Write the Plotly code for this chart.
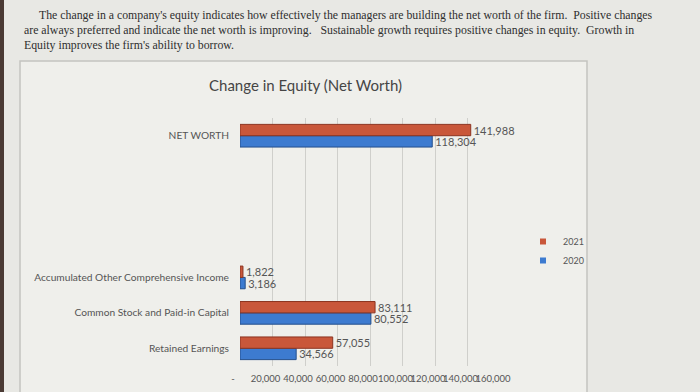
import plotly.graph_objects as go

categories = ["Retained Earnings", "Common Stock and Paid-in Capital",
              "Accumulated Other Comprehensive Income", " ", "  ", "   ", "NET WORTH"]
values_2021 = [57055, 83111, 1822, None, None, None, 141988]
values_2020 = [34566, 80552, 3186, None, None, None, 118304]
x_tick_vals = [0, 20000, 40000, 60000, 80000, 100000, 120000, 140000, 160000]
x_tick_text = ["-", "20,000", "40,000", "60,000", "80,000", "100,000", "120,000", "140,000", "160,000"]
series_names = ["2020", "2021"]

intro_lines = [
    "The change in a company's equity indicates how effectively the managers are building the net worth of the firm.  Positive changes",
    "are always preferred and indicate the net worth is improving.   Sustainable growth requires positive changes in equity.  Growth in",
    "Equity improves the firm's ability to borrow.",
]

W, H = 700, 392
L, R, T, B = 240, 200, 118, 26
PW, PH = W - L - R, H - T - B

def px(x):
    return (x - L) / PW

def py(y):
    return (H - B - y) / PH

RED = "#c9573a"
BLUE = "#3d7bd0"
EDGE = {"2020": "#244f8c", "2021": "#8c3420"}
COL = {"2020": BLUE, "2021": RED}

def fmt(v):
    return "" if v is None else f"{v:,}"

fig = go.Figure()
for name, vals in zip(series_names, [values_2020, values_2021]):
    fig.add_trace(go.Bar(
        y=categories, x=vals, orientation="h", name=name, showlegend=False,
        marker=dict(color=COL[name], line=dict(color=EDGE[name], width=1)),
        text=[fmt(v) for v in vals], textposition="outside", constraintext="none",
        textfont=dict(color="#555555", size=11, family="Lato"), cliponaxis=False,
    ))
# legend entries with small square swatches
for name in series_names:
    fig.add_trace(go.Scatter(
        x=[None], y=[None], mode="markers", name=name,
        marker=dict(symbol="square", size=6, color=COL[name]),
    ))

shapes = [
    dict(type="rect", xref="paper", yref="paper", x0=px(20), x1=px(587), y0=py(400), y1=py(61),
         fillcolor="#efefeb", line=dict(color="#c4c4c0", width=1.5), layer="below"),
    dict(type="rect", xref="paper", yref="paper", x0=px(0), x1=px(4), y0=py(392), y1=py(0),
         fillcolor="#4a3a34", line=dict(width=0), layer="below"),
]

annotations = [
    dict(text="Change in Equity (Net Worth)", xref="paper", yref="paper", x=px(305), y=py(85),
         showarrow=False, font=dict(family="Lato", size=15, color="#454545"),
         xanchor="center", yanchor="middle"),
]
line_pos = [(37, 15), (22, 30), (22, 45)]
for (lx, ly), txt in zip(line_pos, intro_lines):
    annotations.append(dict(text=txt, xref="paper", yref="paper", x=px(lx), y=py(ly),
                            showarrow=False, xanchor="left", yanchor="middle",
                            font=dict(family="Liberation Serif", size=11.8, color="#2e2e2e")))

fig.update_layout(
    width=W, height=H, autosize=False,
    margin=dict(l=L, r=R, t=T, b=B, autoexpand=False),
    paper_bgcolor="#e8e8e4",
    plot_bgcolor="rgba(0,0,0,0)",
    barmode="group", bargap=0.36, bargroupgap=0.0,
    showlegend=True,
    legend=dict(traceorder="reversed", xref="container", yref="container",
                x=523 / W, y=1 - 227 / H, xanchor="left", yanchor="top",
                bgcolor="rgba(0,0,0,0)", font=dict(family="Lato", size=9, color="#555555"),
                itemwidth=30, tracegroupgap=0),
    shapes=shapes,
    annotations=annotations,
    xaxis=dict(range=[0, 160000], tickvals=x_tick_vals, ticktext=x_tick_text, tickangle=0,
               showgrid=True, gridcolor="#cfcfcb", gridwidth=1, zeroline=False,
               showline=False, ticks="", automargin=False,
               ticklabelstandoff=5, ticklabelshift=-7,
               tickfont=dict(family="Lato", size=9.5, color="#555555")),
    yaxis=dict(categoryorder="array", categoryarray=categories, showgrid=False,
               zeroline=False, showline=False, ticks="", ticklabelstandoff=10, automargin=False,
               tickfont=dict(family="Lato", size=10.2, color="#555555")),
)

fig.write_html("out.html", config={"displayModeBar": False, "responsive": False},
               post_script="document.body.style.margin='0';document.body.style.overflow='hidden';document.body.style.background='#e8e8e4';")
